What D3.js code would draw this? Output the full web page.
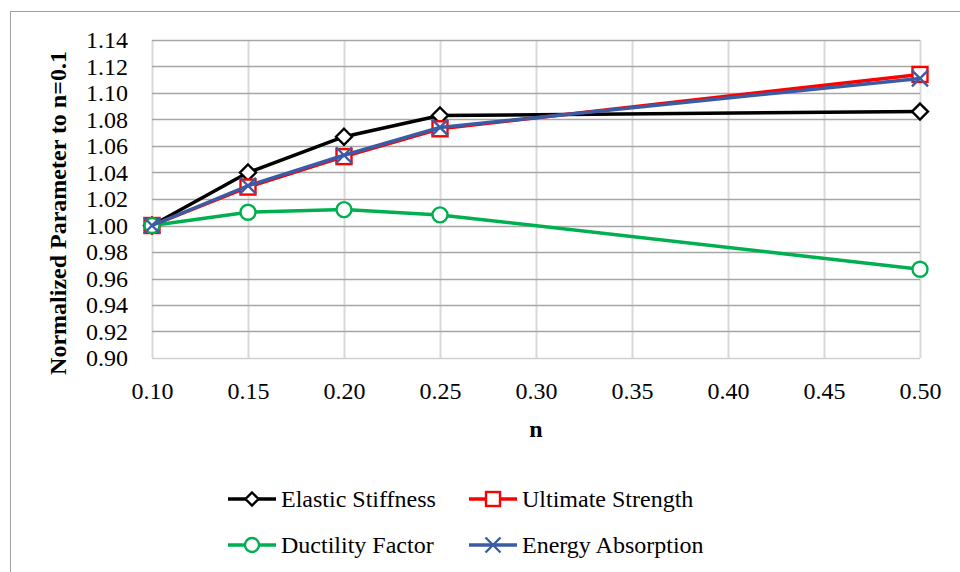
<!DOCTYPE html>
<html><head><meta charset="utf-8">
<script src="https://cdn.jsdelivr.net/npm/d3@7"></script>
<style>body{margin:0;background:#fff}svg{display:block}</style>
</head><body>
<svg id="c" width="960" height="572"></svg>
<script>
const nValues = [0.10, 0.15, 0.20, 0.25, 0.50];
const elasticStiffness = [1.000, 1.040, 1.067, 1.083, 1.086];
const ultimateStrength = [1.000, 1.029, 1.052, 1.073, 1.114];
const ductilityFactor = [1.000, 1.010, 1.012, 1.008, 0.967];
const energyAbsorption = [1.000, 1.030, 1.053, 1.074, 1.111];
const xTicks = [0.10, 0.15, 0.20, 0.25, 0.30, 0.35, 0.40, 0.45, 0.50];
const yTicks = [0.90, 0.92, 0.94, 0.96, 0.98, 1.00, 1.02, 1.04, 1.06, 1.08, 1.10, 1.12, 1.14];

const series = [
  {name: "Elastic Stiffness", values: elasticStiffness, color: "#000000", marker: "diamond"},
  {name: "Ultimate Strength", values: ultimateStrength, color: "#FF0000", marker: "square"},
  {name: "Ductility Factor", values: ductilityFactor, color: "#00B050", marker: "circle"},
  {name: "Energy Absorption", values: energyAbsorption, color: "#3B5BA5", marker: "x"}
];

const svg = d3.select("#c");
const font = "'Liberation Serif','Times New Roman',serif";
const L = 152, R = 920, T = 40, B = 358;
const x = d3.scaleLinear().domain([0.10, 0.50]).range([L, R]);
const y = d3.scaleLinear().domain([0.90, 1.14]).range([B, T]);

// outer frame
svg.append("rect").attr("x", 10.5).attr("y", 11.5).attr("width", 1000).attr("height", 700)
  .attr("fill", "none").attr("stroke", "#a0a0a0").attr("stroke-width", 1);

// vertical gridlines
svg.append("g").selectAll("line").data(xTicks).join("line")
  .attr("x1", d => Math.round(x(d)) + 0.5).attr("x2", d => Math.round(x(d)) + 0.5)
  .attr("y1", T).attr("y2", B)
  .attr("stroke", "#d9d9d9").attr("stroke-width", 2);
// horizontal gridlines
svg.append("g").selectAll("line").data(yTicks).join("line")
  .attr("x1", L).attr("x2", R)
  .attr("y1", d => Math.round(y(d)) + 0.5).attr("y2", d => Math.round(y(d)) + 0.5)
  .attr("stroke", d => (d === 0.90) ? "#d0d0d0" : "#a6a6a6").attr("stroke-width", 1.5);

// axes via d3 axis
const yAxis = svg.append("g").attr("transform", `translate(${L},0)`)
  .call(d3.axisLeft(y).tickValues(yTicks).tickFormat(d3.format(".2f")).tickSize(0).tickPadding(24));
yAxis.select(".domain").remove();
yAxis.selectAll("text").attr("font-family", font).attr("font-size", 24).attr("fill", "#000");

const xAxis = svg.append("g").attr("transform", `translate(0,${B})`)
  .call(d3.axisBottom(x).tickValues(xTicks).tickFormat(d3.format(".2f")).tickSize(0));
xAxis.select(".domain").remove();
xAxis.selectAll("text").attr("font-family", font).attr("font-size", 24).attr("fill", "#000")
  .attr("y", 41).attr("dy", 0);

// axis titles
svg.append("text").attr("transform", "translate(66,213) rotate(-90)")
  .attr("text-anchor", "middle").attr("font-family", font).attr("font-size", 24)
  .attr("font-weight", "bold").text("Normalized Parameter to n=0.1");
svg.append("text").attr("x", 536).attr("y", 437).attr("text-anchor", "middle")
  .attr("font-family", font).attr("font-size", 24).attr("font-weight", "bold").text("n");

function drawMarker(g, type, cx, cy, color, s) {
  if (type === "diamond") {
    g.append("path").attr("d", `M${cx},${cy-s}L${cx+s},${cy}L${cx},${cy+s}L${cx-s},${cy}Z`)
      .attr("fill", "#fff").attr("stroke", color).attr("stroke-width", 2.4);
  } else if (type === "square") {
    g.append("rect").attr("x", cx-s+0.5).attr("y", cy-s+0.5).attr("width", 2*s-1).attr("height", 2*s-1)
      .attr("fill", "#fff").attr("stroke", color).attr("stroke-width", 2.4);
  } else if (type === "circle") {
    g.append("circle").attr("cx", cx).attr("cy", cy).attr("r", s - 0.5)
      .attr("fill", "#fff").attr("stroke", color).attr("stroke-width", 2.4);
  } else if (type === "x") {
    g.append("path").attr("d", `M${cx-s},${cy-s}L${cx+s},${cy+s}M${cx+s},${cy-s}L${cx-s},${cy+s}`)
      .attr("fill", "none").attr("stroke", color).attr("stroke-width", 2.4);
  }
}

const line = d3.line().x(d => x(d[0])).y(d => y(d[1]));
series.forEach(s => {
  const pts = nValues.map((n, i) => [n, s.values[i]]);
  const g = svg.append("g");
  g.append("path").datum(pts).attr("d", line).attr("fill", "none")
    .attr("stroke", s.color).attr("stroke-width", 3.5).attr("stroke-linejoin", "round");
  pts.forEach(p => drawMarker(g, s.marker, x(p[0]), y(p[1]), s.color, 8));
});

// legend
const legPos = [[228, 499], [469, 499], [228, 545], [469, 545]];
series.forEach((s, i) => {
  const [lx, ly] = legPos[i];
  const g = svg.append("g");
  g.append("line").attr("x1", lx).attr("x2", lx + 48).attr("y1", ly).attr("y2", ly)
    .attr("stroke", s.color).attr("stroke-width", 3.5);
  drawMarker(g, s.marker, lx + 24, ly, s.color, s.marker === "diamond" ? 6.5 : 7.5);
  g.append("text").attr("x", lx + 53).attr("y", ly + 8).attr("font-family", font)
    .attr("font-size", 24).attr("fill", "#000").text(s.name);
});
</script>
</body></html>
